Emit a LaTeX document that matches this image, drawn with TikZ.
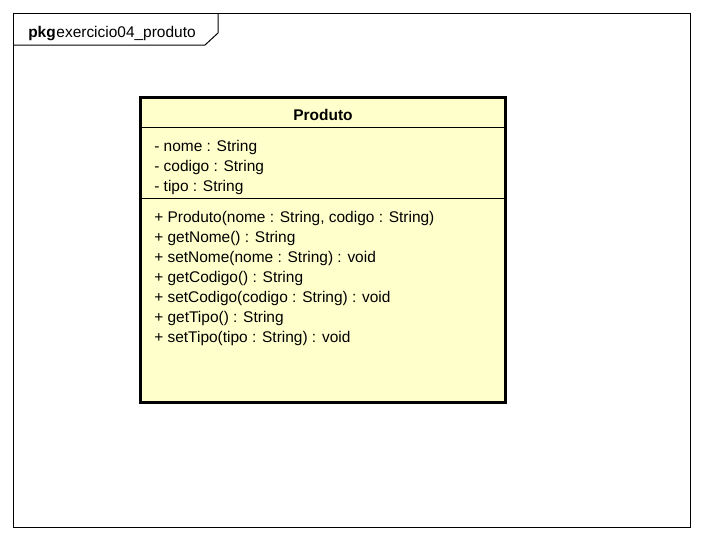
\documentclass[tikz,border=0pt]{standalone}
\usepackage{fontspec}
\setmainfont{Liberation Sans}
\definecolor{classfill}{RGB}{255,255,204}
\tikzset{
  frameline/.style={draw=black, line width=0.75pt},
  classbox/.style={draw=black, line width=2.25pt, fill=classfill, rectangle, inner sep=0pt, outer sep=0pt,
    minimum width=365*0.75pt, minimum height=305*0.75pt},
  sepline/.style={draw=black, line width=0.9pt},
  member/.style={anchor=base west, inner sep=0pt, font=\fontsize{11.6pt}{15pt}\selectfont},
  title/.style={anchor=base, inner sep=0pt, font=\fontsize{11.6pt}{15pt}\selectfont\bfseries},
  pkgtext/.style={anchor=base west, inner sep=0pt, font=\fontsize{11.6pt}{15pt}\selectfont},
}
\begin{document}
\begin{tikzpicture}[x=0.75pt,y=-0.75pt]
\useasboundingbox (0,0) rectangle (702,540);
% package frame
\draw[frameline] (13,13) rectangle (690,527);
\draw[frameline] (13,45) -- (205,45) -- (218,33) -- (218,13);
\node[pkgtext] (pkg) at (28,37) {\textbf{pkg}\hspace{0.5pt}exercicio04\_produto};
% class
\node[classbox, anchor=north west] (cls) at (140.5,97.5) {};
\coordinate (s1l) at (140.5,127.5);
\coordinate (s1r) at (505.5,127.5);
\coordinate (s2l) at (140.5,198.5);
\coordinate (s2r) at (505.5,198.5);
\draw[sepline] (s1l) -- (s1r);
\draw[sepline] (s2l) -- (s2r);
\draw[line width=2.25pt] (cls.north west) rectangle (cls.south east);
\node[title] (name) at (323,120) {Produto};
\node[member] (a1) at (154,151) {- nome : String};
\node[member] (a2) at (154,171) {- codigo : String};
\node[member] (a3) at (154,191) {- tipo : String};
\node[member] (m1) at (154,222) {+ Produto(nome : String, codigo : String)};
\node[member] (m2) at (154,242) {+ getNome() : String};
\node[member] (m3) at (154,262) {+ setNome(nome : String) : void};
\node[member] (m4) at (154,282) {+ getCodigo() : String};
\node[member] (m5) at (154,302) {+ setCodigo(codigo : String) : void};
\node[member] (m6) at (154,322) {+ getTipo() : String};
\node[member] (m7) at (154,342) {+ setTipo(tipo : String) : void};
\end{tikzpicture}
\end{document}
